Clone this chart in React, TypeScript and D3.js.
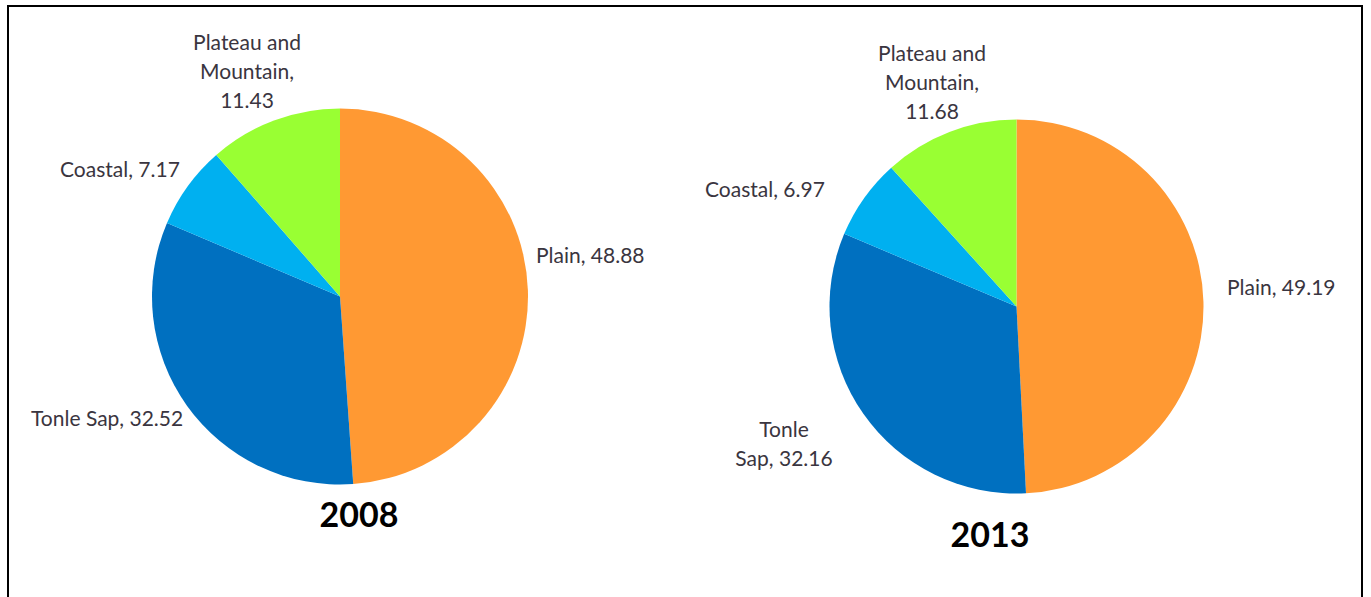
import React from "react";
import * as d3 from "d3";

const categories = ["Plain", "Tonle Sap", "Coastal", "Plateau and Mountain"];
const values2008 = [48.88, 32.52, 7.17, 11.43];
const values2013 = [49.19, 32.16, 6.97, 11.68];
const years = ["2008", "2013"];
const colors = ["#FF9933", "#0070C0", "#00B0F0", "#99FF33"];

type LabelLine = { text: string; x: number; y: number };

const W = 1371;
const H = 597;
const FONT = "Lato, 'Open Sans', sans-serif";

function Pie({ values, cx, cy, r }: { values: number[]; cx: number; cy: number; r: number }) {
  const pie = d3.pie<number>().sort(null).startAngle(0).endAngle(2 * Math.PI);
  const arc = d3.arc<d3.PieArcDatum<number>>().innerRadius(0).outerRadius(r);
  const arcs = pie(values);
  return (
    <g transform={`translate(${cx},${cy})`}>
      {arcs.map((a, i) => (
        <path key={i} d={arc(a) || ""} fill={colors[i]} />
      ))}
    </g>
  );
}

export default function App() {
  const fmt = (v: number) => v.toFixed(2);
  const labels2008: { lines: LabelLine[]; anchor: "start" | "middle" }[] = [
    { lines: [{ text: `${categories[0]}, ${fmt(values2008[0])}`, x: 536, y: 263 }], anchor: "start" },
    { lines: [{ text: `${categories[1]}, ${fmt(values2008[1])}`, x: 31, y: 426 }], anchor: "start" },
    { lines: [{ text: `${categories[2]}, ${fmt(values2008[2])}`, x: 60, y: 177 }], anchor: "start" },
    {
      lines: [
        { text: "Plateau and", x: 247, y: 50 },
        { text: "Mountain,", x: 247, y: 79 },
        { text: fmt(values2008[3]), x: 247, y: 108 },
      ],
      anchor: "middle",
    },
  ];
  const labels2013: { lines: LabelLine[]; anchor: "start" | "middle" }[] = [
    { lines: [{ text: `${categories[0]}, ${fmt(values2013[0])}`, x: 1227, y: 295 }], anchor: "start" },
    {
      lines: [
        { text: "Tonle", x: 784, y: 437 },
        { text: `Sap, ${fmt(values2013[1])}`, x: 784, y: 466 },
      ],
      anchor: "middle",
    },
    { lines: [{ text: `${categories[2]}, ${fmt(values2013[2])}`, x: 705, y: 197 }], anchor: "start" },
    {
      lines: [
        { text: "Plateau and", x: 932, y: 61 },
        { text: "Mountain,", x: 932, y: 90 },
        { text: fmt(values2013[3]), x: 932, y: 119 },
      ],
      anchor: "middle",
    },
  ];

  const renderLabels = (labels: { lines: LabelLine[]; anchor: "start" | "middle" }[]) =>
    labels.map((l, i) => (
      <g key={i}>
        {l.lines.map((ln, j) => (
          <text
            key={j}
            x={ln.x}
            y={ln.y}
            textAnchor={l.anchor}
            fontFamily={FONT}
            fontSize={21}
            fill="#3a3540"
          >
            {ln.text}
          </text>
        ))}
      </g>
    ));

  return (
    <svg
      width={W}
      height={H}
      style={{ position: "absolute", left: 0, top: 0, display: "block", background: "#fff" }}
    >
      <rect x={0} y={0} width={W} height={H} fill="#fff" />
      <rect x={8} y={6} width={1354} height={H + 10} fill="none" stroke="#000" strokeWidth={2} />
      <Pie values={values2008} cx={340} cy={296.5} r={188} />
      <Pie values={values2013} cx={1016.5} cy={306.5} r={187} />
      {renderLabels(labels2008)}
      {renderLabels(labels2013)}
      <text x={359} y={527} textAnchor="middle" fontFamily={FONT} fontWeight="bold" fontSize={34} fill="#000">
        {years[0]}
      </text>
      <text x={990} y={547} textAnchor="middle" fontFamily={FONT} fontWeight="bold" fontSize={34} fill="#000">
        {years[1]}
      </text>
    </svg>
  );
}
